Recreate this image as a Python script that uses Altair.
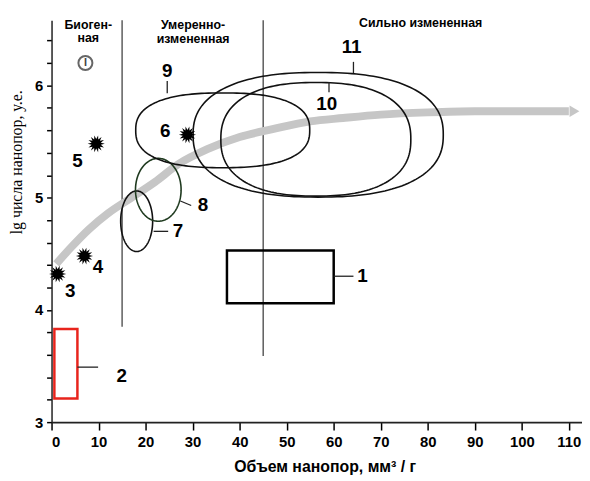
import altair as alt
import pandas as pd
import numpy as np

# ---------------- data ----------------
curve_x = [1, 4, 8, 12, 17, 22, 27, 33, 40, 47, 55, 62, 70, 80, 90, 100, 110]
curve_y = [4.41, 4.55, 4.72, 4.86, 5.00, 5.14, 5.30, 5.43, 5.54, 5.61, 5.68, 5.71, 5.74, 5.76, 5.77, 5.77, 5.77]
arrow_x = [111.2]
arrow_y = [5.77]

star_x = [1.3, 7.0, 9.5, 28.9]
star_y = [4.32, 4.48, 5.48, 5.56]

ell_id = ["7", "8", "9", "10", "11"]
ell_cx = [18.1, 22.7, 36.4, 56.2, 56.7]
ell_cy = [4.79, 5.07, 5.60, 5.52, 5.56]
ell_rx = [3.4, 4.85, 18.5, 20.2, 26.6]
ell_ry = [0.27, 0.28, 0.333, 0.506, 0.555]
ell_exp = [2.0, 2.0, 2.5, 2.4, 2.4]
ell_col = ["#111111", "#1f3a1f", "#111111", "#111111", "#111111"]

rect_id = ["1", "2"]
rect_x1 = [37.3, 0.6]
rect_x2 = [60.0, 5.5]
rect_y1 = [4.06, 3.21]
rect_y2 = [4.53, 3.83]
rect_col = ["#000000", "#e8241c"]

zone_x = [15, 45]
zone_ylow = [3.85, 3.59]
zone_ytop = [6.58, 6.58]

lab_text = ["1", "2", "3", "4", "5", "6", "7", "8", "9", "10", "11"]
lab_x = [66.1, 14.9, 4.0, 9.9, 5.5, 24.2, 26.9, 32.2, 24.6, 58.5, 63.8]
lab_y = [4.30, 3.41, 4.17, 4.38, 5.33, 5.59, 4.70, 4.93, 6.13, 5.83, 6.34]

lead_x1 = [60.0, 5.5, 21.7, 27.4, 24.6, 59.0, 64.2]
lead_x2 = [64.2, 9.9, 24.8, 29.7, 24.6, 59.0, 64.2]
lead_y1 = [4.30, 3.49, 4.70, 4.97, 5.93, 6.03, 6.11]
lead_y2 = [4.30, 3.49, 4.70, 4.93, 6.04, 5.94, 6.21]

head_text = ["Биоген-\nная", "Умеренно-\nизмененная", "Сильно    измененная"]
head_x = [7.8, 30.1, 78.5]
head_y = [6.505, 6.500, 6.518]

mark_x = [7.2]
mark_y = [6.2]

x_ticks = [0, 10, 20, 30, 40, 50, 60, 70, 80, 90, 100, 110]
y_ticks = [3.0, 3.2, 3.4, 3.6, 3.8, 4.0, 4.2, 4.4, 4.6, 4.8, 5.0, 5.2, 5.4, 5.6, 5.8, 6.0, 6.2, 6.4]

# ---------------- build tables ----------------
curve_df = pd.DataFrame({"x": curve_x, "y": curve_y, "i": range(len(curve_x))})
arrow_df = pd.DataFrame({"x": arrow_x, "y": arrow_y})
star_df = pd.DataFrame({"x": star_x, "y": star_y})

rows = []
t = np.linspace(0, 2 * np.pi, 181)
for k, eid in enumerate(ell_id):
    n = ell_exp[k]
    c, s = np.cos(t), np.sin(t)
    px = ell_cx[k] + ell_rx[k] * np.sign(c) * np.abs(c) ** (2 / n)
    py = ell_cy[k] + ell_ry[k] * np.sign(s) * np.abs(s) ** (2 / n)
    for j in range(len(t)):
        rows.append({"id": eid, "x": px[j], "y": py[j], "i": j, "col": ell_col[k]})
ell_df = pd.DataFrame(rows)

rect_df = pd.DataFrame({"id": rect_id, "x1": rect_x1, "x2": rect_x2,
                        "y1": rect_y1, "y2": rect_y2, "col": rect_col})
zone_df = pd.DataFrame({"x": zone_x, "y1": zone_ylow, "y2": zone_ytop})
lab_df = pd.DataFrame({"t": lab_text, "x": lab_x, "y": lab_y})
lead_df = pd.DataFrame({"x1": lead_x1, "x2": lead_x2, "y1": lead_y1, "y2": lead_y2})
head_df = pd.DataFrame({"t": head_text, "x": head_x, "y": head_y})
mark_df = pd.DataFrame({"x": mark_x, "y": mark_y})

# ---------------- scales / axes ----------------
FONT = "Liberation Sans"
XTITLE = "Объем нанопор, мм³ / г"
YTITLE = "lg числа нанопор, у.е."
xs = alt.Scale(domain=[0, 112.8], nice=False, zero=False)
ys = alt.Scale(domain=[3, 6.58], nice=False, zero=False)

xaxis = alt.Axis(values=x_ticks, grid=False, labelFont=FONT, labelFontWeight="bold",
                 labelFontSize=15, labelColor="black", labelPadding=5,
                 tickSize=8, tickColor="black", tickWidth=1.5,
                 domainColor="#222222", domainWidth=2,
                 title=XTITLE, titleFont=FONT, titleFontWeight="bold",
                 titleFontSize=16, titleColor="black", titleX=276, titleY=45,
                 titleBaseline="middle")
yaxis = alt.Axis(values=y_ticks, grid=False, labelFont=FONT, labelFontWeight="bold",
                 labelFontSize=15, labelColor="black", labelPadding=4,
                 labelExpr="abs(datum.value - round(datum.value)) < 0.01 ? format(datum.value, 'd') : ''",
                 tickSize=5, tickColor="black", tickWidth=1.5,
                 domainColor="#222222", domainWidth=1.5,
                 title=YTITLE, titleFont="Liberation Serif",
                 titleFontWeight="normal", titleFontSize=16, titleColor="black",
                 titleX=-27, titleY=143, titleAngle=-90, titleAlign="center",
                 titleBaseline="bottom")


def X(f="x"):
    return alt.X(f + ":Q", scale=xs, axis=xaxis, title=XTITLE)


def Y(f="y"):
    return alt.Y(f + ":Q", scale=ys, axis=yaxis, title=YTITLE)


# star path
npts = 14
pts = []
for k in range(2 * npts):
    r = 1.0 if k % 2 == 0 else 0.55
    a = np.pi * k / npts
    pts.append(f"{r*np.cos(a):.3f},{r*np.sin(a):.3f}")
star_path = "M" + " L".join(pts) + " Z"

# ---------------- layers ----------------
zones = alt.Chart(zone_df).mark_rule(color="#333333", strokeWidth=1.2).encode(
    x=X("x"), y=Y("y1"), y2="y2:Q")

curve = alt.Chart(curve_df).mark_line(color="#c6c6c6", strokeWidth=8, strokeCap="butt",
                                      interpolate="monotone").encode(
    x=X(), y=Y(), order="i:Q")

arrow = alt.Chart(arrow_df).mark_point(shape="triangle-right", filled=True,
                                       color="#c6c6c6", opacity=1, size=130).encode(x=X(), y=Y())

ells = alt.Chart(ell_df).mark_line(strokeWidth=1.6).encode(
    x=X(), y=Y(), order="i:Q", detail="id:N",
    color=alt.Color("col:N", scale=None))

rects = alt.Chart(rect_df).mark_rect(filled=False, strokeWidth=2.5).encode(
    x=X("x1"), x2="x2:Q", y=Y("y1"), y2="y2:Q",
    stroke=alt.Color("col:N", scale=None))

leads = alt.Chart(lead_df).mark_rule(color="#222222", strokeWidth=1.3).encode(
    x=X("x1"), x2="x2:Q", y=Y("y1"), y2="y2:Q")

stars = alt.Chart(star_df).mark_point(shape=star_path, filled=True, color="black",
                                      opacity=1, size=300).encode(x=X(), y=Y())

labels = alt.Chart(lab_df).mark_text(font=FONT, fontWeight="bold", fontSize=19,
                                     color="black", align="center", baseline="middle").encode(
    x=X(), y=Y(), text="t:N")

heads = alt.Chart(head_df).mark_text(font=FONT, fontWeight="bold", fontSize=12.5,
                                     color="black", align="center", baseline="alphabetic",
                                     lineBreak="\n", lineHeight=13.5).encode(
    x=X(), y=Y(), text="t:N")

mark_circ = alt.Chart(mark_df).mark_point(shape="circle", filled=False, color="#666666",
                                          strokeWidth=2, size=200, opacity=1).encode(x=X(), y=Y())
mark_i = alt.Chart(mark_df).mark_text(font=FONT, fontWeight="bold", fontSize=11,
                                      color="#444444", align="center", baseline="middle").encode(
    x=X(), y=Y(), text=alt.value("I"))

chart = alt.layer(zones, curve, arrow, ells, rects, leads, stars, labels, heads,
                  mark_circ, mark_i).properties(
    width=536, height=406,
    autosize=alt.AutoSizeParams(type="none"),
    padding={"left": 44, "top": 10, "right": 0, "bottom": 55},
    background="white",
).configure_view(strokeWidth=0)

chart.save("out.html", embed_options={"renderer": "svg", "actions": False})
